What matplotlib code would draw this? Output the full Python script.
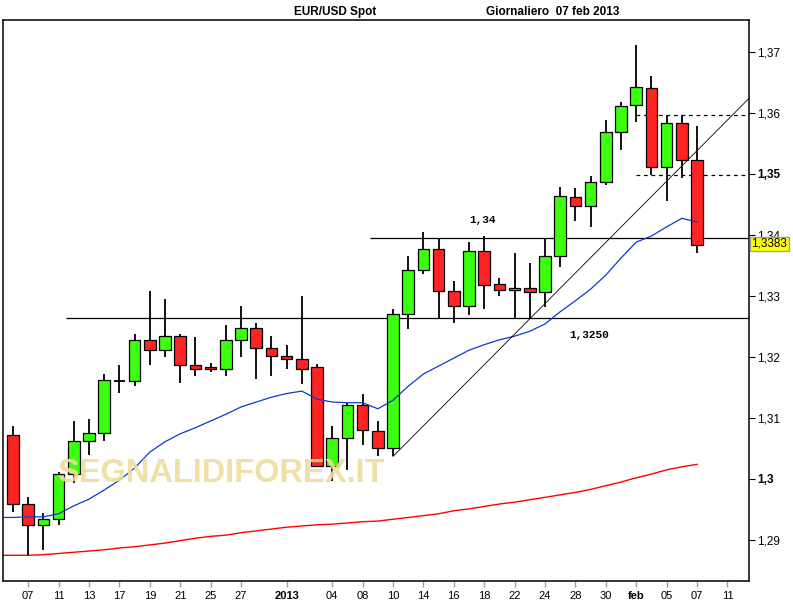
import matplotlib
matplotlib.use("Agg")
import matplotlib.pyplot as plt

# EUR/USD giornaliero, dal 6 dic 2012 al 7 feb 2013 (una barra per giorno)
opens = [1.3072, 1.2959, 1.2924, 1.2934, 1.3009, 1.3063, 1.3075, 1.3161,
         1.3160, 1.3227, 1.3211, 1.3235, 1.3186, 1.3183, 1.3180, 1.3227,
         1.3247, 1.3214, 1.3201, 1.3196, 1.3183, 1.3022, 1.3067, 1.3122,
         1.3079, 1.3050, 1.3271, 1.3342, 1.3376, 1.3308, 1.3283, 1.3373,
         1.3319, 1.3310, 1.3313, 1.3306, 1.3366, 1.3462, 1.3447, 1.3487,
         1.3568, 1.3612, 1.3640, 1.3511, 1.3583, 1.3522]
highs = [1.3086, 1.2970, 1.2944, 1.3012, 1.3095, 1.3098, 1.3172, 1.3187,
         1.3238, 1.3308, 1.3295, 1.3238, 1.3233, 1.3190, 1.3252, 1.3283,
         1.3255, 1.3234, 1.3220, 1.3300, 1.3188, 1.3087, 1.3125, 1.3139,
         1.3095, 1.3278, 1.3365, 1.3404, 1.3394, 1.3325, 1.3389, 1.3398,
         1.3330, 1.3371, 1.3354, 1.3394, 1.3479, 1.3476, 1.3496, 1.3588,
         1.3618, 1.3711, 1.3660, 1.3597, 1.3596, 1.3578]
lows = [1.2946, 1.2876, 1.2883, 1.2925, 1.2993, 1.3039, 1.3063, 1.3141,
        1.3153, 1.3187, 1.3200, 1.3157, 1.3168, 1.3176, 1.3169, 1.3200,
        1.3164, 1.3169, 1.3180, 1.3155, 1.3021, 1.2996, 1.3014, 1.3055,
        1.3038, 1.3037, 1.3246, 1.3335, 1.3264, 1.3255, 1.3268, 1.3278,
        1.3299, 1.3264, 1.3264, 1.3282, 1.3348, 1.3423, 1.3413, 1.3481,
        1.3539, 1.3585, 1.3498, 1.3456, 1.3493, 1.3370]
closes = [1.2959, 1.2924, 1.2934, 1.3009, 1.3063, 1.3075, 1.3162, 1.3161,
          1.3228, 1.3211, 1.3235, 1.3186, 1.3180, 1.3180, 1.3227, 1.3247,
          1.3214, 1.3201, 1.3196, 1.3181, 1.3022, 1.3067, 1.3121, 1.3081,
          1.3050, 1.3271, 1.3342, 1.3376, 1.3308, 1.3283, 1.3373, 1.3317,
          1.3310, 1.3313, 1.3306, 1.3366, 1.3464, 1.3447, 1.3487, 1.3568,
          1.3611, 1.3642, 1.3511, 1.3583, 1.3522, 1.3383]

# medie mobili (prima voce = barra -1, fuori dal bordo)
ma_short = [1.2937, 1.2937, 1.2938, 1.2938, 1.2943, 1.2956, 1.2967, 1.2982,
            1.2998, 1.3018, 1.3044, 1.3061, 1.3074, 1.3084, 1.3095, 1.3106,
            1.3118, 1.3126, 1.3134, 1.3140, 1.3144, 1.3131, 1.3126, 1.3125,
            1.3125, 1.3115, 1.3129, 1.3152, 1.3172, 1.3185, 1.3198, 1.3211,
            1.3220, 1.3228, 1.3234, 1.3242, 1.3254, 1.3274, 1.3292, 1.3311,
            1.3334, 1.3362, 1.3388, 1.3398, 1.3413, 1.3427, 1.3421]
ma_long = [1.2875, 1.2875, 1.2875, 1.2876, 1.2878, 1.2880, 1.2882, 1.2884,
           1.2887, 1.2889, 1.2892, 1.2895, 1.2899, 1.2903, 1.2906, 1.2908,
           1.2912, 1.2915, 1.2918, 1.2921, 1.2923, 1.2925, 1.2926, 1.2928,
           1.2930, 1.2931, 1.2934, 1.2937, 1.2940, 1.2943, 1.2948, 1.2951,
           1.2955, 1.2959, 1.2962, 1.2966, 1.2970, 1.2974, 1.2978, 1.2983,
           1.2989, 1.2995, 1.3002, 1.3008, 1.3015, 1.3020, 1.3024]

tick_pos = [1, 3, 5, 7, 9, 11, 13, 15, 18, 21, 23, 25, 27, 29, 31, 33, 35,
            37, 39, 41, 43, 45, 47]
tick_lab = ["07", "11", "13", "17", "19", "21", "25", "27", "2013", "04",
            "08", "10", "14", "16", "18", "22", "24", "28", "30", "feb",
            "05", "07", "11"]

y_ticks = [1.29, 1.30, 1.31, 1.32, 1.33, 1.34, 1.35, 1.36, 1.37]
y_lab = ["1,29", "1,3", "1,31", "1,32", "1,33", "1,34", "1,35", "1,36", "1,37"]

supp_lines = [(24, 1.3394, "1,34", 30.9, 1.3424),
              (4, 1.3264, "1,3250", 37.9, 1.3236)]
dash_lines = [1.3596, 1.3498]
trend = [(25, 1.3037), (48.4, 1.3623)]
last_close = 1.3383

GREEN = "#3CFF10"
RED = "#FF2424"

plt.rcParams['font.family'] = ['Liberation Sans', 'DejaVu Sans']

fig = plt.figure(figsize=(7.93, 6.0), dpi=100)
ax = fig.add_axes([3 / 793, 19 / 600, 746 / 793, 561 / 600])

n = len(opens)
bw = 0.77
for i in range(n):
    o, h, l, c = opens[i], highs[i], lows[i], closes[i]
    ax.vlines(i, l, h, color="black", lw=1.3, zorder=3)
    if abs(c - o) < 0.00005:
        ax.hlines(o, i - bw / 2, i + bw / 2, color="black", lw=1.3, zorder=4)
        continue
    col = GREEN if c > o else RED
    ax.bar(i, abs(c - o), bottom=min(o, c), width=bw, color=col,
           edgecolor="black", linewidth=0.9, zorder=4)

xs = list(range(-1, n))
ax.plot(xs, ma_short, color="#0a3ccc", lw=0.9, zorder=5)
ax.plot(xs, ma_long, color="#ff0000", lw=1.0, zorder=2)

x_right = 48.42
for x0, yv, txt, tx, ty in supp_lines:
    ax.hlines(yv, x0 - 0.5, x_right, color="black", lw=0.9, zorder=2)
    ax.text(tx, ty, txt, family="Liberation Mono", fontweight="bold",
            fontsize=8, ha="center", va="center")
for yv in dash_lines:
    ax.hlines(yv, 41, x_right, color="black", lw=0.9, linestyles=(0, (3, 3)),
              zorder=2)
ax.plot([trend[0][0], trend[1][0]], [trend[0][1], trend[1][1]],
        color="black", lw=0.6, zorder=6)

ax.text(0.0724, 0.177, "SEGNALIDIFOREX.IT", transform=ax.transAxes,
        fontsize=23.5, fontweight="bold", color="#eedd9e", alpha=0.9,
        ha="left", va="baseline", zorder=7)

ax.set_xlim(-0.658, x_right)
ax.set_ylim(1.28329, 1.37519)

ax.set_xticks(tick_pos)
ax.set_xticklabels(tick_lab)
for lab in ax.get_xticklabels():
    if lab.get_text() in ("2013", "feb"):
        lab.set_fontweight("bold")
        lab.set_fontsize(9)
ax.tick_params(axis="x", direction="out", length=4, width=1,
               color="#a0a0a0", labelsize=8, pad=3)

ax.yaxis.tick_right()
ax.set_yticks(y_ticks)
ax.set_yticklabels(y_lab)
for lab in ax.get_yticklabels():
    if lab.get_text() in ("1,3", "1,35"):
        lab.set_fontweight("bold")
        lab.set_fontsize(9)
ax.tick_params(axis="y", direction="out", length=4, width=0.8,
               color="black", labelsize=8.5, pad=2)

for sp in ax.spines.values():
    sp.set_linewidth(1.1)

ax.text(1.003, last_close + 0.0002, "1,3383", transform=ax.get_yaxis_transform(),
        fontsize=8.5, ha="left", va="center", zorder=10, clip_on=False,
        bbox=dict(boxstyle="square,pad=0.12", fc="#ffff00", ec="#a0a0a0", lw=1))

fig.text(335 / 793, 1 - 12 / 600, "EUR/USD Spot", ha="center", va="center",
         fontsize=8.5, fontweight="bold",
         family=["Liberation Sans Narrow", "Liberation Sans"])
fig.text(553 / 793, 1 - 12 / 600, "Giornaliero  07 feb 2013", ha="center",
         va="center", fontsize=8.5, fontweight="bold",
         family=["Liberation Sans Narrow", "Liberation Sans"])

fig.savefig("out.png", dpi=100)
